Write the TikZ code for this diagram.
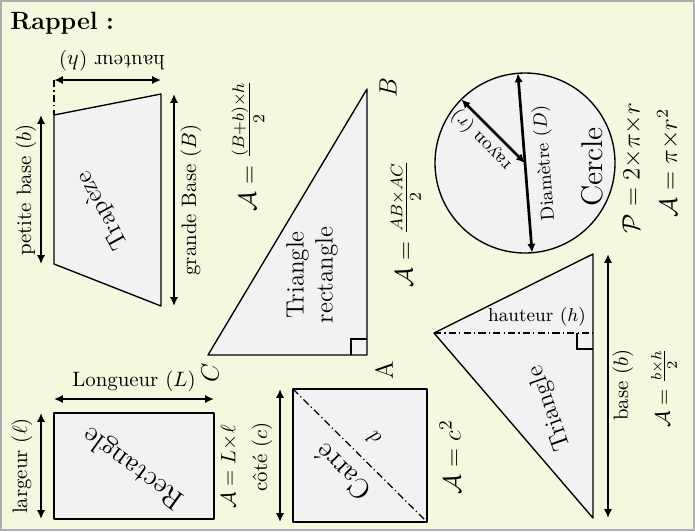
\documentclass[tikz,border=0pt]{standalone}
\usepackage{fontspec}
\usetikzlibrary{arrows.meta}
\definecolor{bgc}{RGB}{245,247,222}
\definecolor{framec}{RGB}{175,175,175}
\definecolor{shapec}{RGB}{242,242,242}
\newcommand{\tx}{{\times}}
\begin{document}
\begin{tikzpicture}[x=0.48pt,y=-0.48pt,
  figshape/.style={draw=black, fill=shapec, line width=0.65pt, line join=round},
  dim/.style={{Latex[length=4.3pt,width=4pt]}-{Latex[length=4.3pt,width=4pt]}, line width=1.3pt},
  dashdot/.style={line width=0.6pt, dash pattern=on 3.5pt off 1.5pt on 0.6pt off 1.5pt},
  lbl/.style={inner sep=0pt},
  rmark/.style={line width=0.6pt},
  bigname/.style={font=\fontsize{13.5}{16}\selectfont}
  ]
\useasboundingbox (0,0) rectangle (695,531);
\draw[fill=bgc, draw=framec, line width=0.6pt] (1,1) rectangle (694,530);
\node[lbl, anchor=base west, font=\large\bfseries] (title) at (10,29) {Rappel\,\,:};

% ---------- Trapeze ----------
\coordinate (t1) at (54,115); \coordinate (t2) at (161,94);
\coordinate (t3) at (161,306); \coordinate (t4) at (54,264);
\draw[figshape] (t1) -- (t2) -- (t3) -- (t4) -- cycle;
\coordinate (h1) at (54,80); \coordinate (h2) at (161,80);
\draw[dashdot] (h1) -- (t1);
\draw[dim] (h1) -- (h2);
\coordinate (pb1) at (41,115); \coordinate (pb2) at (41,264);
\draw[dim] (pb1) -- (pb2);
\coordinate (gb1) at (174,94); \coordinate (gb2) at (174,306);
\draw[dim] (gb1) -- (gb2);
\node[lbl, rotate=180] (hlab) at (112,61) {hauteur $(h)$};
\node[lbl, rotate=90] (pblab) at (26,190) {petite base $(b)$};
\node[lbl, rotate=90] (gblab) at (191,200) {grande Base $(B)$};
\node[lbl, rotate=118.5, font=\large] (trap) at (103,210) {Trapèze};
\node[lbl, rotate=90, font=\large] (f1) at (248,146) {$\mathcal{A}=\frac{(B+b)\times h}{2}$};

% ---------- Triangle rectangle ----------
\coordinate (A) at (367,355); \coordinate (B) at (367,89); \coordinate (C) at (208,355);
\draw[figshape] (A) -- (B) -- (C) -- cycle;
\coordinate (ra1) at (351,355); \coordinate (ra2) at (351,339); \coordinate (ra3) at (367,339);
\draw[rmark] (ra1) -- (ra2) -- (ra3);
\node[lbl, rotate=90, font=\large] (Blab) at (388,88) {$B$};
\node[lbl, rotate=90, font=\large] (Clab) at (210,373) {$C$};
\node[lbl, rotate=90, font=\large] (Alab) at (384,370) {A};
\node[lbl, rotate=90, font=\large, align=center] (trect) at (312,275) {Triangle\\rectangle};
\node[lbl, rotate=90, font=\large] (f2) at (406,224) {$\mathcal{A}=\frac{AB\times AC}{2}$};

% ---------- Cercle ----------
\coordinate (cc) at (525,163);
\draw[figshape] (cc) circle[radius=90];
\coordinate (d1) at (517.9,73.3); \coordinate (d2) at (532.1,252.7);
\coordinate (r1) at (461.4,99.4);
\draw[dim] (d1) -- (d2);
\draw[dim] (cc) -- (r1);
\node[lbl, rotate=135, font=\small] (rlab) at (481,140) {rayon $(r)$};
\node[lbl, rotate=94.5, font=\small] (dlab) at (545,163) {Diamètre $(D)$};
\node[lbl, rotate=90, font=\Large] (cercle) at (592,167) {Cercle};
\node[lbl, rotate=90, font=\large] (fp) at (632,168) {$\mathcal{P}=2\tx\pi\tx r$};
\node[lbl, rotate=90, font=\large] (fa) at (668,163) {$\mathcal{A}=\pi\tx r^2$};

% ---------- Triangle ----------
\coordinate (p1) at (434,333); \coordinate (p2) at (593,254); \coordinate (p3) at (593,518);
\coordinate (pf) at (593,333);
\draw[figshape] (p1) -- (p2) -- (p3) -- cycle;
\draw[dashdot] (p1) -- (pf);
\coordinate (rb1) at (577,333); \coordinate (rb2) at (577,349); \coordinate (rb3) at (593,349);
\draw[rmark] (rb1) -- (rb2) -- (rb3);
\node[lbl, font=\small] (htlab) at (537,317) {hauteur $(h)$};
\node[lbl, rotate=109.5, font=\large] (tri) at (550,408) {Triangle};
\coordinate (bb1) at (608,254); \coordinate (bb2) at (608,518);
\draw[dim] (bb1) -- (bb2);
\node[lbl, rotate=90] (blab) at (623,385) {base $(b)$};
\node[lbl, rotate=90] (f3) at (664,388) {$\mathcal{A}=\frac{b\times h}{2}$};

% ---------- Rectangle ----------
\coordinate (q1) at (54,413); \coordinate (q2) at (214,519);
\draw[figshape] (q1) rectangle (q2);
\coordinate (L1) at (54,399); \coordinate (L2) at (214,399);
\draw[dim] (L1) -- (L2);
\coordinate (l1) at (41,413); \coordinate (l2) at (41,519);
\draw[dim] (l1) -- (l2);
\node[lbl] (Llab) at (134,381) {Longueur $(L)$};
\node[lbl, rotate=90] (llab) at (22,466) {largeur $(\ell)$};
\node[lbl, rotate=144, bigname] (rect) at (134,467) {Rectangle};
\node[lbl, rotate=90] (f4) at (229,467) {$\mathcal{A}=L\tx\ell$};

% ---------- Carre ----------
\coordinate (s1) at (293,389); \coordinate (s2) at (427,522);
\draw[figshape] (s1) rectangle (s2);
\draw[dashdot] (s1) -- (s2);
\node[lbl, rotate=135] (dd) at (374,439) {$d$};
\node[lbl, rotate=135, bigname] (carre) at (343,472) {Carré};
\coordinate (c1) at (280,389); \coordinate (c2) at (280,522);
\draw[dim] (c1) -- (c2);
\node[lbl, rotate=90] (clab) at (262,457) {côté $(c)$};
\node[lbl, rotate=90, font=\fontsize{13}{15}\selectfont] (f5) at (450,457) {$\mathcal{A}=c^2$};
\end{tikzpicture}
\end{document}
